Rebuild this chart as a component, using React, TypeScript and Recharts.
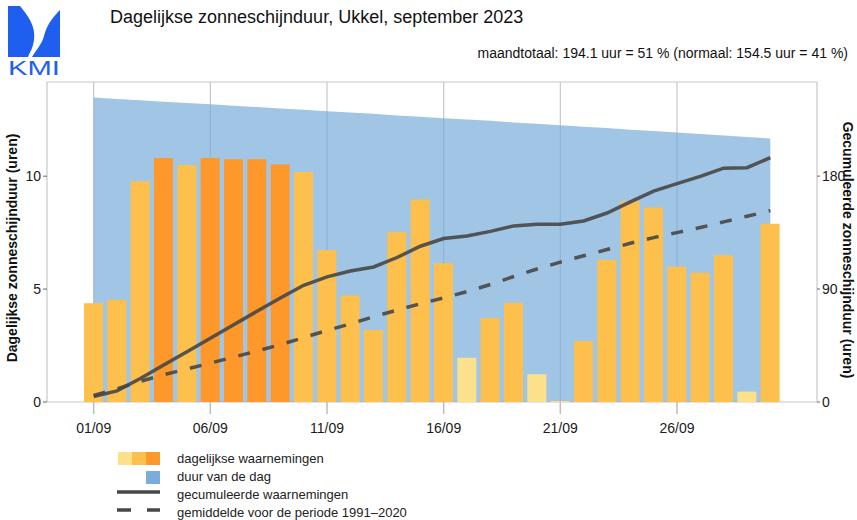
import { ComposedChart, Area, Bar, Line, XAxis, YAxis, CartesianGrid, Cell } from "recharts";

const days = [1, 2, 3, 4, 5, 6, 7, 8, 9, 10, 11, 12, 13, 14, 15, 16, 17, 18, 19, 20, 21, 22, 23, 24, 25, 26, 27, 28, 29, 30];

// dagelijkse zonneschijnduur (uren)
const sunshine = [
  4.37, 4.53, 9.78, 10.8, 10.49, 10.81, 10.75, 10.75, 10.52, 10.19,
  6.73, 4.72, 3.19, 7.52, 8.97, 6.14, 1.96, 3.72, 4.38, 1.23,
  0.04, 2.7, 6.3, 8.89, 8.61, 5.99, 5.72, 6.5, 0.46, 7.89,
];

// duur van de dag (uren)
const dayLength = [
  13.48, 13.42, 13.36, 13.3, 13.24, 13.19, 13.12, 13.06, 13.0, 12.94,
  12.88, 12.82, 12.76, 12.69, 12.63, 12.57, 12.51, 12.45, 12.38, 12.32,
  12.26, 12.19, 12.13, 12.06, 12.0, 11.93, 11.87, 11.8, 11.74, 11.67,
];

// gemiddelde 1991-2020, gecumuleerd (uren)
const normalCumulative = [
  5.2, 10.5, 16.5, 21.7, 26.3, 31.0, 35.8, 40.6, 45.7, 51.3,
  57.0, 62.3, 68.0, 73.2, 78.3, 83.0, 88.0, 93.6, 100.0, 106.0,
  111.5, 116.5, 121.5, 126.5, 131.0, 135.0, 139.0, 143.5, 148.0, 152.5,
];

const xTicks = [1, 6, 11, 16, 21, 26];
const xTickLabels = ["01/09", "06/09", "11/09", "16/09", "21/09", "26/09"];
const leftTicks = [0, 5, 10];
const rightTicks = [0, 90, 180];

const LIGHT = "#fde08a";
const MID = "#fec04d";
const DARK = "#fe982a";
const BLUE = "#74a9d8";
const LINE = "#474747";

let running = 0;
const data = days.map((day, i) => {
  running += sunshine[i];
  return {
    day,
    sun: sunshine[i],
    length: dayLength[i],
    cumul: Math.round(running * 100) / 100,
    normal: normalCumulative[i],
  };
});

function barColor(sun: number, len: number) {
  const r = sun / len;
  if (r < 0.2) return LIGHT;
  if (r < 0.8) return MID;
  return DARK;
}

function Logo() {
  return (
    <svg width={56} height={76} style={{ position: "absolute", left: 6, top: 2 }}>
      <path d="M2,4 L14,4 C22,14 30,24 28,38 C27,46 24,50 22,55 L2,55 Z" fill="#1f5ff0" />
      <path d="M54,8 L54,55 L26,55 C30,48 36,42 38,34 C41,22 48,14 54,8 Z" fill="#1f5ff0" />
      <text x={2} y={73} fontSize={20} fill="#1f5ff0" textLength={52} lengthAdjust="spacingAndGlyphs">
        KMI
      </text>
    </svg>
  );
}

const legendText: React.CSSProperties = { position: "absolute", left: 177, fontSize: 13, color: "#222" };

export default function App() {
  return (
    <div
      style={{
        position: "absolute",
        left: 0,
        top: 0,
        width: 857,
        height: 520,
        background: "#fff",
        fontFamily: "'Liberation Sans', Arial, sans-serif",
        overflow: "hidden",
      }}
    >
      <Logo />
      <div style={{ position: "absolute", left: 110, top: 7, fontSize: 18, color: "#111" }}>
        Dagelijkse zonneschijnduur, Ukkel, september 2023
      </div>
      <div style={{ position: "absolute", right: 9, top: 45, fontSize: 14, color: "#111" }}>
        maandtotaal: 194.1 uur = 51 % (normaal: 154.5 uur = 41 %)
      </div>

      <div style={{ position: "absolute", left: 0, top: 0 }}>
        <ComposedChart
          width={857}
          height={520}
          data={data}
          margin={{ top: 82, right: 0, bottom: 88, left: 0 }}
        >
          <CartesianGrid stroke="#c8c8c8" strokeWidth={1.2} />
          <XAxis
            dataKey="day"
            type="number"
            domain={[-1, 32]}
            ticks={xTicks}
            tickFormatter={(v: number) => xTickLabels[xTicks.indexOf(v)]}
            axisLine={false}
            tickSize={12}
            tickMargin={9}
            tickLine={{ stroke: "#bdbdbd", strokeWidth: 1.5 }}
            tick={{ fill: "#1a1a1a", fontSize: 14 }}
            height={30}
          />
          <YAxis
            yAxisId="left"
            domain={[0, 14.17]}
            ticks={leftTicks}
            axisLine={false}
            tickSize={4}
            tickMargin={2}
            tickLine={{ stroke: "#666" }}
            tick={{ fill: "#1a1a1a", fontSize: 14 }}
            width={47}
          />
          <YAxis
            yAxisId="right"
            orientation="right"
            domain={[0, 255]}
            ticks={rightTicks}
            axisLine={false}
            tickSize={3}
            tickMargin={2}
            tickLine={{ stroke: "#666" }}
            tick={{ fill: "#1a1a1a", fontSize: 14 }}
            width={40}
          />
          <Area
            yAxisId="left"
            dataKey="length"
            type="linear"
            fill={BLUE}
            fillOpacity={0.68}
            stroke="none"
            isAnimationActive={false}
          />
          <Bar yAxisId="left" dataKey="sun" barSize={19} isAnimationActive={false}>
            {data.map((d) => (
              <Cell key={d.day} fill={barColor(d.sun, d.length)} />
            ))}
          </Bar>
          <Line
            yAxisId="right"
            dataKey="normal"
            type="linear"
            stroke={LINE}
            strokeOpacity={0.9}
            strokeWidth={3.5}
            strokeDasharray="12 13"
            dot={false}
            isAnimationActive={false}
          />
          <Line
            yAxisId="right"
            dataKey="cumul"
            type="linear"
            stroke={LINE}
            strokeOpacity={0.9}
            strokeWidth={3.5}
            dot={false}
            isAnimationActive={false}
          />
        </ComposedChart>
      </div>

      <div
        style={{
          position: "absolute",
          left: 12,
          top: 248,
          transform: "translate(-50%, -50%) rotate(-90deg)",
          fontSize: 14,
          fontWeight: "bold",
          whiteSpace: "nowrap",
          color: "#111",
        }}
      >
        Dagelijkse zonneschijnduur (uren)
      </div>
      <div
        style={{
          position: "absolute",
          left: 848,
          top: 250,
          transform: "translate(-50%, -50%) rotate(90deg)",
          fontSize: 14,
          fontWeight: "bold",
          whiteSpace: "nowrap",
          color: "#111",
        }}
      >
        Gecumuleerde zonneschijnduur (uren)
      </div>

      {/* legende */}
      <svg width={60} height={70} style={{ position: "absolute", left: 110, top: 448 }}>
        <rect x={8} y={4} width={14} height={13} fill={LIGHT} />
        <rect x={22} y={4} width={14} height={13} fill={MID} />
        <rect x={36} y={4} width={14} height={13} fill={DARK} />
        <rect x={36} y={23} width={14} height={13} fill={BLUE} fillOpacity={0.95} />
        <line x1={7} x2={50} y1={44} y2={44} stroke={LINE} strokeWidth={3.5} />
        <line x1={7} x2={21} y1={62} y2={62} stroke={LINE} strokeWidth={3.5} />
        <line x1={37} x2={50} y1={62} y2={62} stroke={LINE} strokeWidth={3.5} />
      </svg>
      <div style={{ ...legendText, top: 451 }}>dagelijkse waarnemingen</div>
      <div style={{ ...legendText, top: 469 }}>duur van de dag</div>
      <div style={{ ...legendText, top: 487 }}>gecumuleerde waarnemingen</div>
      <div style={{ ...legendText, top: 505 }}>gemiddelde voor de periode 1991–2020</div>
    </div>
  );
}
